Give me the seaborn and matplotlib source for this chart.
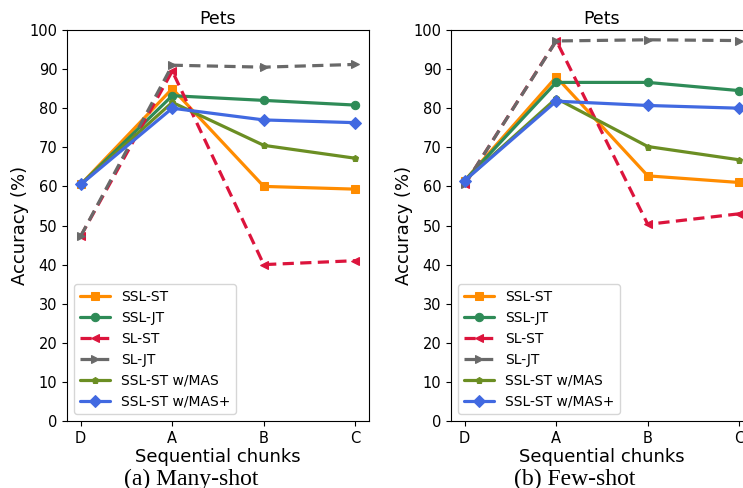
import matplotlib
matplotlib.use("Agg")
import matplotlib.pyplot as plt
import pandas as pd
import seaborn as sns

# ----------------------------------------------------------------------------------
# Data

chunks = ["D", "A", "B", "C"]
methods = ["SSL-ST", "SSL-JT", "SL-ST", "SL-JT", "SSL-ST w/MAS", "SSL-ST w/MAS+"]

many_ssl_st = [60.5, 85.0, 60.0, 59.3]
many_ssl_jt = [60.5, 83.2, 82.0, 80.8]
many_sl_st = [47.3, 89.5, 40.0, 41.0]
many_sl_jt = [47.3, 91.0, 90.5, 91.2]
many_mas = [60.5, 81.5, 70.5, 67.2]
many_mas_plus = [60.5, 80.0, 77.0, 76.3]

few_ssl_st = [61.5, 88.0, 62.7, 61.0]
few_ssl_jt = [61.5, 86.6, 86.6, 84.5]
few_sl_st = [60.5, 97.3, 50.3, 53.0]
few_sl_jt = [60.5, 97.2, 97.5, 97.3]
few_mas = [61.5, 82.5, 70.2, 66.8]
few_mas_plus = [61.5, 81.8, 80.7, 80.0]

colors = ["darkorange", "seagreen", "crimson", "dimgray", "olivedrab", "royalblue"]
markers = ["s", "o", "<", ">", "p", "D"]
dashed = [False, False, True, True, False, False]


def make_df(series):
    rows = []
    for name, vals in zip(methods, series):
        for i, (c, v) in enumerate(zip(chunks, vals)):
            rows.append({"method": name, "pos": i, "chunk": c, "acc": v})
    return pd.DataFrame(rows)


many_df = make_df([many_ssl_st, many_ssl_jt, many_sl_st, many_sl_jt, many_mas, many_mas_plus])
few_df = make_df([few_ssl_st, few_ssl_jt, few_sl_st, few_sl_jt, few_mas, few_mas_plus])

# ----------------------------------------------------------------------------------
# Plot

sns.set_style("ticks")
plt.rcParams["font.family"] = ["DejaVu Sans"]
plt.rcParams.update({
    "text.color": "black", "axes.labelcolor": "black",
    "xtick.color": "black", "ytick.color": "black", "axes.edgecolor": "black",
})

fig = plt.figure(figsize=(7.43, 4.88), dpi=100)
ax_a = fig.add_axes([0.0902, 0.1373, 0.4065, 0.8012])
ax_b = fig.add_axes([0.607, 0.1373, 0.4065, 0.8012])

for ax, df, caption in [(ax_a, many_df, "(a) Many-shot"), (ax_b, few_df, "(b) Few-shot")]:
    for name, col, mk, dsh in zip(methods, colors, markers, dashed):
        sub = df[df["method"] == name]
        sns.lineplot(
            data=sub, x="pos", y="acc", ax=ax,
            color=col, marker=mk, label=name,
            linewidth=2.3, markersize=6 if mk != "p" else 5,
            markeredgecolor=col,
            dashes=(3.5, 2) if dsh else "",
        )
    ax.set_ylim(0, 100)
    ax.set_yticks(range(0, 101, 10))
    ax.set_xticks(range(len(chunks)))
    ax.set_xticklabels(chunks)
    ax.tick_params(labelsize=10.5, length=3.5)
    ax.set_title("Pets", fontsize=12.5, pad=4)
    ax.set_xlabel("Sequential chunks", fontsize=13, labelpad=2)
    ax.set_ylabel("Accuracy (%)", fontsize=13, labelpad=0.5)
    ax.legend(loc="lower left", fontsize=10, handlelength=2.2, borderaxespad=0.5)
    ax.text(0.41, -0.163, caption, transform=ax.transAxes, ha="center", va="baseline",
            fontsize=17, family="Liberation Serif")

fig.savefig("out.png", dpi=100)
